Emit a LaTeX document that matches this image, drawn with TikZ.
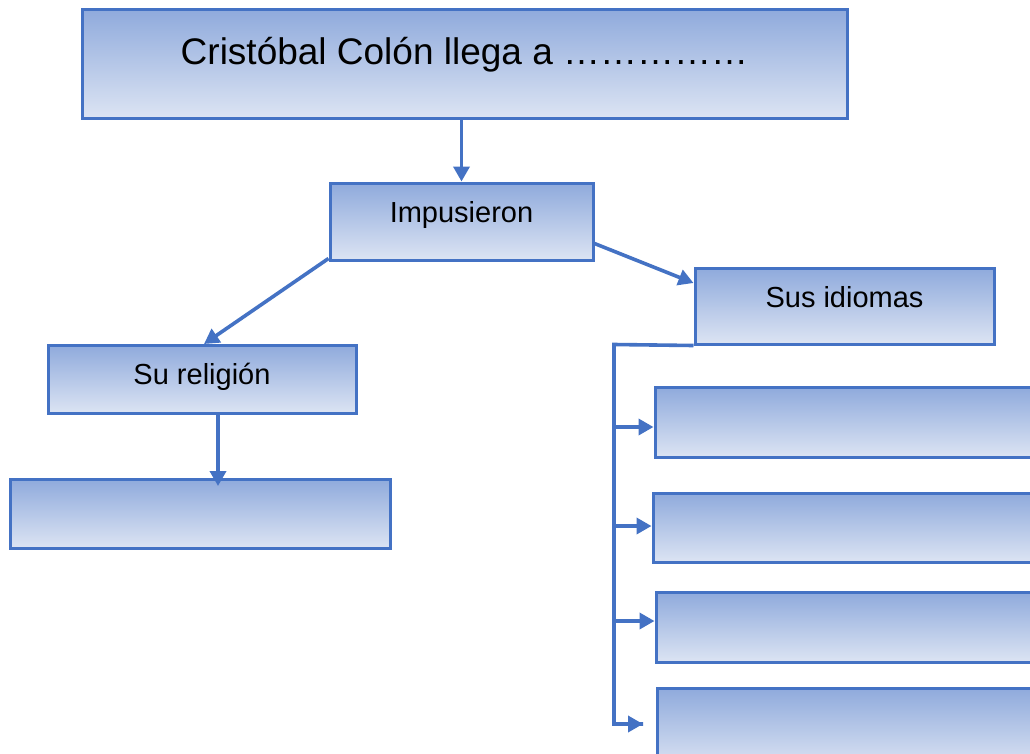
\documentclass[tikz,border=0pt]{standalone}
\usepackage{fontspec}
\setmainfont{Liberation Sans}
\usetikzlibrary{arrows.meta}
\definecolor{edge}{HTML}{4472C4}
\definecolor{gtop}{HTML}{8FAADC}
\definecolor{gbot}{HTML}{DCE4F3}
\tikzset{
  gbox/.style={draw=edge, line width=3pt, top color=gtop, bottom color=gbot, shading angle=0, inner sep=0pt, rectangle},
  conn/.style={draw=edge, line width=3.6pt},
  arr/.style={conn, -{Triangle[length=15pt,width=16pt]}},
  lbl/.style={anchor=base, inner sep=0pt, text=black}
}
\begin{document}
\begin{tikzpicture}[x=1pt,y=-1pt]
\clip (0,0) rectangle (1030,753);
\fill[white] (0,0) rectangle (1030,753);
% boxes
\node[gbox, minimum width=765pt, minimum height=109pt] (top) at (464.5,63.5) {};
\node[gbox, minimum width=263pt, minimum height=77pt] (imp) at (461.5,221.5) {};
\node[gbox, minimum width=299pt, minimum height=76pt] (idi) at (844.5,306) {};
\node[gbox, minimum width=308pt, minimum height=68pt] (rel) at (202,379) {};
\node[gbox, minimum width=380pt, minimum height=69pt] (rel1) at (200,513.5) {};
\node[gbox, minimum width=400pt, minimum height=70pt] (i1) at (855,422) {};
\node[gbox, minimum width=400pt, minimum height=69pt] (i2) at (853,527.5) {};
\node[gbox, minimum width=400pt, minimum height=70pt] (i3) at (856,627) {};
\node[gbox, minimum width=400pt, minimum height=80pt] (i4) at (857,728) {};
% texts
\node[lbl, font=\fontsize{37}{44}\selectfont] (ttop) at (464.5,64) {Cristóbal Colón llega a ……………};
\node[lbl, font=\fontsize{29}{34}\selectfont] (timp) at (461.5,222) {Impusieron};
\node[lbl, font=\fontsize{29}{34}\selectfont] (tidi) at (844.5,307.5) {Sus idiomas};
\node[lbl, font=\fontsize{29}{34}\selectfont] (trel) at (202,384) {Su religión};
% connectors
\coordinate (bus) at (614,344.5);
\coordinate (end4) at (643,724);
\draw[arr] (imp.north |- top.south) -- (imp.north);
\draw[arr] (imp.south west) ++(0,-3) -- (204,344);
\draw[arr] (imp.east) ++(0,22) -- (idi.west |- 0,283);
\draw[arr] (218,413) -- (218,486);
\draw[conn] (idi.south west) -- (bus) -- (614,724) -- (end4);
\draw[arr] (614,427) -- (i1.west |- 0,427);
\draw[arr] (614,526) -- (i2.west |- 0,526);
\draw[arr] (614,621) -- (i3.west |- 0,621);
\draw[arr] (612.5,724) -- (end4);
\end{tikzpicture}
\end{document}
